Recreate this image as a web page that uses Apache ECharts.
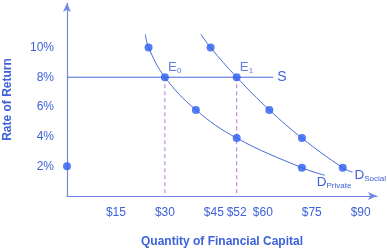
<!DOCTYPE html>
<html><head><meta charset="utf-8">
<script src="https://cdn.jsdelivr.net/npm/echarts@6/dist/echarts.min.js"></script>
<style>html,body{margin:0;padding:0;background:#fff}#c{width:387px;height:250px}</style>
</head><body><div id="c"></div>
<script>
const xTicks = [15, 30, 45, 52, 60, 75, 90];
const yTicks = [2, 4, 6, 8, 10];
const privateCurve = [[24, 10.9], [25, 10], [30, 8], [39.5, 5.8], [52, 3.9], [72, 1.9], [79, 1.4]];
const socialCurve = [[41, 10.9], [44, 10], [52, 8], [62, 5.8], [72, 3.9], [84.5, 1.9], [87.5, 1.6]];
const privateDots = [[25, 10], [39.5, 5.8], [52, 3.9], [72, 1.9]];
const socialDots = [[44, 10], [62, 5.8], [72, 3.9], [84.5, 1.9]];
const supplyLine = [[0, 8], [63.2, 8]];
const axisDot = [[0, 2]];
const eq0 = [30, 8];
const eq1 = [52, 8];

const textColor = '#3d62d9';
const axisColor = '#7189e6';
const lineColor = '#4a69d6';
const dotColor = '#2b5df0';
const dashColor = '#b877d9';
const FONT = 'Liberation Sans, Arial, sans-serif';

const rich = {
  big: { fontSize: 13.5, color: textColor, fontFamily: FONT },
  sub: { fontSize: 8, color: textColor, fontFamily: FONT, verticalAlign: 'bottom', padding: [8, 0, 0, 0] }
};

const chart = echarts.init(document.getElementById('c'), null, { renderer: 'canvas' });
chart.setOption({
  animation: false,
  grid: { left: 67, right: 10, top: 3, bottom: 54, containLabel: false, outerBoundsMode: 'none' },
  xAxis: {
    type: 'value', min: 0, max: 95,
    name: 'Quantity of Financial Capital', nameLocation: 'middle', nameGap: 40,
    nameTextStyle: { color: textColor, fontSize: 12, fontWeight: 'bold', fontFamily: FONT },
    axisLine: { onZero: false, lineStyle: { color: axisColor, width: 1.2 }, symbol: ['none', 'arrow'], symbolSize: [6, 9] },
    axisTick: { show: false },
    splitLine: { show: false },
    axisLabel: { customValues: xTicks, formatter: v => '$' + v, color: textColor, fontSize: 12, fontFamily: FONT, margin: 11 }
  },
  yAxis: {
    type: 'value', min: 0, max: 13,
    name: 'Rate of Return', nameLocation: 'middle', nameGap: 53,
    nameTextStyle: { color: textColor, fontSize: 12, fontWeight: 'bold', fontFamily: FONT },
    axisLine: { show: true, onZero: false, lineStyle: { color: axisColor, width: 1.2 }, symbol: ['none', 'arrow'], symbolSize: [6, 9] },
    axisTick: { show: false },
    splitLine: { show: false },
    axisLabel: { customValues: yTicks, formatter: v => v + '%', color: textColor, fontSize: 12, fontFamily: FONT, margin: 13 }
  },
  series: [
    { type: 'line', data: [[eq0[0], eq0[1]], [eq0[0], 0]], showSymbol: false, lineStyle: { color: dashColor, width: 1, type: [4, 3] }, z: 1 },
    { type: 'line', data: [[eq1[0], eq1[1]], [eq1[0], 0]], showSymbol: false, lineStyle: { color: dashColor, width: 1, type: [4, 3] }, z: 1 },
    { type: 'line', data: supplyLine, showSymbol: false, lineStyle: { color: lineColor, width: 1 }, z: 2,
      endLabel: { show: true, formatter: 'S', color: textColor, fontSize: 14, fontFamily: FONT, distance: 4 } },
    { type: 'line', data: privateCurve, smooth: 0.4, showSymbol: false, lineStyle: { color: lineColor, width: 1 }, z: 2,
      endLabel: { show: true, formatter: '{big|D}{sub|Private}', rich: rich, offset: [-16, 7] } },
    { type: 'line', data: socialCurve, smooth: 0.4, showSymbol: false, lineStyle: { color: lineColor, width: 1 }, z: 2,
      endLabel: { show: true, formatter: '{big|D}{sub|Social}', rich: rich, offset: [-6, 3] } },
    { type: 'scatter', data: privateDots.concat(socialDots, axisDot), symbolSize: 8, itemStyle: { color: dotColor }, z: 5 },
    { type: 'scatter', data: [
        { value: eq0, label: { show: true, formatter: '{big|E}{sub|0}' } },
        { value: eq1, label: { show: true, formatter: '{big|E}{sub|1}' } }
      ], symbolSize: 8, itemStyle: { color: dotColor }, z: 5,
      label: { position: 'right', offset: [-6, -10], rich: rich } }
  ]
});
</script>
</body></html>
